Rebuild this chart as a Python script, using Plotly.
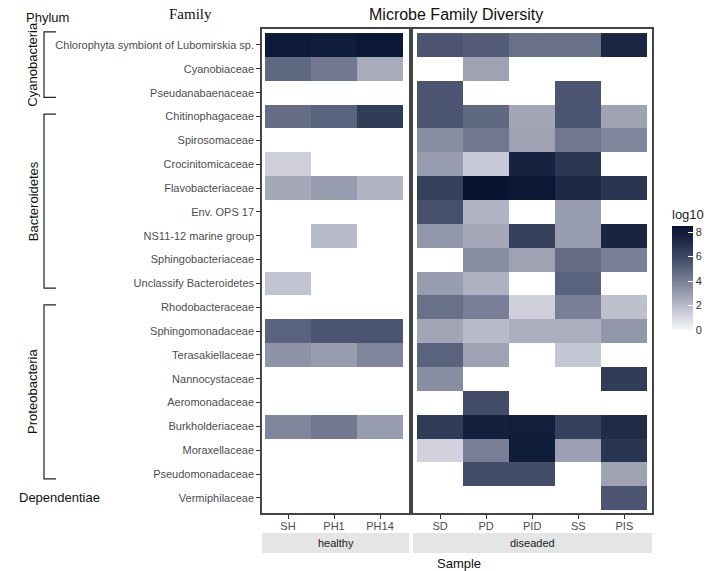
import plotly.graph_objects as go

N = None
families = [
    "Chlorophyta symbiont of Lubomirskia sp.", "Cyanobiaceae", "Pseudanabaenaceae",
    "Chitinophagaceae", "Spirosomaceae", "Crocinitomicaceae", "Flavobacteriaceae",
    "Env. OPS 17", "NS11-12 marine group", "Sphingobacteriaceae", "Unclassify Bacteroidetes",
    "Rhodobacteraceae", "Sphingomonadaceae", "Terasakiellaceae", "Nannocystaceae",
    "Aeromonadaceae", "Burkholderiaceae", "Moraxellaceae", "Pseudomonadaceae", "Vermiphilaceae",
]
healthy_samples = ["SH", "PH1", "PH14"]
diseased_samples = ["SD", "PD", "PID", "SS", "PIS"]

SH   = [8.2, 4.8, N, 4.6, N, 1.3, 2.6, N, N, N, 1.7, N, 5.0, 3.3, N, N, 3.8, N, N, N]
PH1  = [8.0, 4.3, N, 5.0, N, N, 3.0, N, 2.0, N, N, N, 5.5, 3.0, N, N, 4.3, N, N, N]
PH14 = [8.3, 2.5, N, 6.5, N, N, 2.2, N, N, N, N, N, 5.5, 3.8, N, N, 3.0, N, N, N]
SD   = [5.5, N, 5.5, 5.5, 3.5, 3.0, 6.3, 5.7, 3.2, N, 3.0, 4.5, 2.7, 5.0, 3.5, N, 6.5, 1.2, N, N]
PD   = [5.2, 2.8, N, 4.8, 4.3, 1.5, 8.5, 2.2, 2.6, 3.5, 2.3, 4.0, 2.0, 2.8, N, 5.8, 7.8, 4.0, 5.8, N]
PID  = [4.5, N, N, 2.7, 2.8, 7.7, 8.3, N, 6.3, 2.8, N, 1.3, 2.4, N, N, N, 7.9, 8.0, 5.8, N]
SS   = [4.5, N, 5.5, 5.5, 4.3, 6.7, 7.3, 3.0, 3.0, 4.7, 5.0, 4.0, 2.4, 1.6, N, N, 6.3, 2.9, N, N]
PIS  = [7.5, N, N, 2.8, 3.8, N, 6.8, N, 7.6, 4.0, N, 1.8, 3.2, N, 6.5, N, 7.2, 6.8, 2.8, 5.5]

healthy_cols = [SH, PH1, PH14]
diseased_cols = [SD, PD, PID, SS, PIS]

# phylum name, first row index, last row index
phyla = [("Cyanobacteria", 0, 2), ("Bacteroidetes", 3, 10), ("Proteobacteria", 11, 18)]
single_phylum = ("Dependentiae", 19)

colorbar_ticks = [0, 2, 4, 6, 8]

def to_z(cols):
    return [[cols[j][i] for j in range(len(cols))] for i in range(len(families))]

cscale = [[0.0, "#f7f7fa"], [0.15, "#cfd0dc"], [0.32, "#a0a4b5"], [0.65, "#4a5470"],
          [0.85, "#1f2a46"], [1.0, "#061432"]]

font_main = "Liberation Sans, Arial, sans-serif"
fig = go.Figure()
fig.add_trace(go.Heatmap(x=healthy_samples, y=families, z=to_z(healthy_cols),
                         coloraxis="coloraxis", xaxis="x", yaxis="y", hoverongaps=False))
fig.add_trace(go.Heatmap(x=diseased_samples, y=families, z=to_z(diseased_cols),
                         coloraxis="coloraxis", xaxis="x2", yaxis="y2", hoverongaps=False))

W, H = 708, 571
L, R, T, B = 262, 56, 29, 58
pw, ph = W - L - R, H - T - B

def px(xp):
    return (xp - L) / pw

def py(yp):
    return (H - B - yp) / ph

axis_common = dict(showline=True, mirror=True, linecolor="#444444", linewidth=1.5,
                   showgrid=False, zeroline=False, ticks="outside", ticklen=4, automargin=False,
                   tickcolor="#333333", tickfont=dict(family=font_main, size=11, color="#4d4d4d"))

yr = [len(families) - 1 + 0.63, -0.67]
fig.update_layout(
    width=W, height=H, margin=dict(l=L, r=R, t=T, b=B, autoexpand=False),
    paper_bgcolor="white", plot_bgcolor="white",
    xaxis=dict(domain=[0, px(409)], range=[-0.565, 2.63], anchor="y",
               ticklabelstandoff=-2, **axis_common),
    xaxis2=dict(domain=[px(413), 1], range=[-0.587, 4.6], anchor="y2",
                ticklabelstandoff=-2, **axis_common),
    yaxis=dict(domain=[0, 1], range=yr, anchor="x", type="category",
               categoryorder="array", categoryarray=families, **axis_common),
    yaxis2=dict(domain=[0, 1], range=yr, anchor="x2", type="category", matches="y",
                showticklabels=False,
                **{k: v for k, v in axis_common.items() if k != "ticks"}, ticks=""),
    coloraxis=dict(cmin=0, cmax=8.5, colorscale=cscale,
                   colorbar=dict(title=dict(text="log10", side="top",
                                            font=dict(family=font_main, size=13, color="#222")),
                                 thickness=21, len=124 / ph, lenmode="fraction",
                                 xpad=0, ypad=0,
                                 x=px(672), xanchor="left", y=py(268), yanchor="middle",
                                 tickvals=colorbar_ticks, ticks="inside", ticklen=5,
                                 tickcolor="white", outlinewidth=0,
                                 tickfont=dict(family=font_main, size=11, color="#333"))),
    showlegend=False,
)

shapes = []
annots = []

def label(text, x, y, size=13, family=font_main, color="#111", yref="paper", **kw):
    annots.append(dict(text=text, xref=kw.pop("xref", "paper"), yref=yref, x=x, y=y,
                       xanchor="center", yanchor="middle", showarrow=False,
                       font=dict(family=family, size=size, color=color), **kw))

# facet strips
for xr, lab in [("x", "healthy"), ("x2", "diseaded")]:
    shapes.append(dict(type="rect", xref=f"{xr} domain", yref="paper", x0=0, x1=1,
                       y0=py(553), y1=py(533), fillcolor="#e5e5e5", line=dict(width=0)))
    label(lab, 0.5, py(543), size=11, color="#222", xref=f"{xr} domain")

# phylum brackets
bx0, bx1 = px(44), px(56)
for name, i0, i1 in phyla:
    top = i0 - 0.55 if i0 == 0 else i0 - 0.1
    bot = i1 + 0.2
    shapes.append(dict(type="path", xref="paper", yref="y",
                       path=f"M {bx1},{top} L {bx0},{top} L {bx0},{bot} L {bx1},{bot}",
                       line=dict(color="#222", width=1.2)))
    label(name, px(33), (top + bot) / 2, yref="y", textangle=-90)
label(single_phylum[0], px(60), single_phylum[1], yref="y")

# headers and titles
label("Phylum", px(48), py(17))
label("Family", px(190), py(14), size=15, family="Liberation Serif, Times New Roman, serif")
label("Microbe Family Diversity", px(456), py(14), size=16)
label("Sample", px(459), py(563))

fig.update_layout(shapes=shapes, annotations=annots)
fig.write_html("out.html", config={"displayModeBar": False},
               post_script="document.body.style.margin='0';")
